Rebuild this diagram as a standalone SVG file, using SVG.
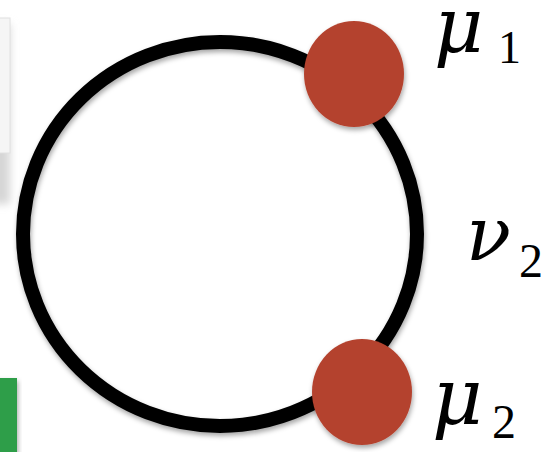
<svg xmlns="http://www.w3.org/2000/svg" width="556" height="452" viewBox="0 0 556 452">
  <defs>
    <filter id="shadow" x="-20%" y="-20%" width="140%" height="140%">
      <feDropShadow dx="1" dy="3" stdDeviation="2.5" flood-color="#000" flood-opacity="0.35"/>
    </filter>
    <filter id="blur" x="-50%" y="-20%" width="200%" height="140%">
      <feGaussianBlur stdDeviation="4"/>
    </filter>
    <style>
      .ring { fill: none; stroke: #000; stroke-width: 14; }
      .dot { fill: #B4432F; }
      .sym { font-family: "DejaVu Serif", "Liberation Serif", serif; font-style: italic; fill: #000; }
      .sub { font-family: "Liberation Serif", "DejaVu Serif", serif; fill: #000; }
    </style>
  </defs>
  <rect x="0" y="0" width="556" height="452" fill="#fff"/>
  <g id="left-panel">
    <rect x="-12" y="24" width="22" height="180" fill="#d6d6d6" filter="url(#blur)"/>
    <rect x="-12" y="18" width="22" height="135" fill="#f5f5f5" stroke="#e0e0e0" stroke-width="1"/>
  </g>
  <g id="green-panel">
    <rect x="-5" y="378" width="22" height="80" fill="#2F9E48" filter="url(#shadow)"/>
  </g>
  <g id="connectors">
    <ellipse class="ring" cx="220" cy="234" rx="197" ry="192" filter="url(#shadow)"/>
  </g>
  <g id="mu1">
    <ellipse class="dot" cx="354" cy="74" rx="50" ry="53" filter="url(#shadow)"/>
  </g>
  <g id="mu2">
    <ellipse class="dot" cx="362" cy="392" rx="50" ry="53" filter="url(#shadow)"/>
  </g>
  <g id="label-mu1">
    <text class="sym" x="434" y="52" font-size="76">μ</text>
    <text class="sub" x="498" y="63" font-size="46">1</text>
  </g>
  <g id="label-nu2">
    <text class="sym" x="466" y="260" font-size="74">ν</text>
    <text class="sub" x="519" y="277" font-size="48">2</text>
  </g>
  <g id="label-mu2">
    <text class="sym" x="432" y="424" font-size="78">μ</text>
    <text class="sub" x="492" y="438" font-size="48">2</text>
  </g>
</svg>
